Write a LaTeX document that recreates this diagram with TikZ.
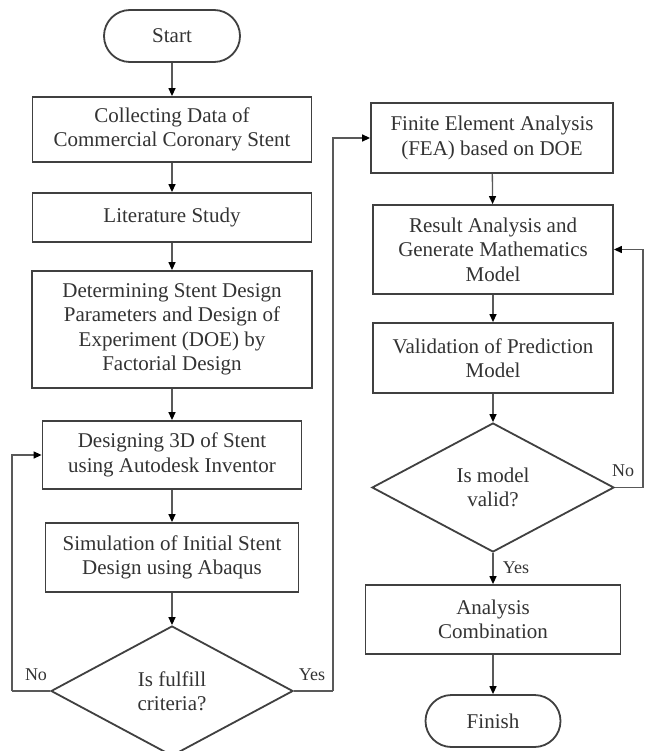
\documentclass[tikz,border=0pt]{standalone}
\usepackage{fontspec}
\setmainfont{Liberation Serif}
\usetikzlibrary{shapes.geometric,arrows.meta}
\begin{document}
\begin{tikzpicture}[x=1pt,y=-1pt,
  every node/.style={text=black!80},
  box/.style={draw=black!75,line width=1.8pt,align=center,inner sep=0pt,
    font=\fontsize{21}{24.5}\selectfont},
  term/.style={box,rounded corners=26pt},
  dec/.style={draw=black!75,line width=1.8pt,diamond,align=center,inner sep=0pt,
    font=\fontsize{21}{24.5}\selectfont},
  conn/.style={draw=black!65,line width=1.3pt,-{Triangle[length=8pt,width=7pt,color=black]}},
  line/.style={draw=black!65,line width=1.3pt},
  lbl/.style={font=\fontsize{18}{20}\selectfont,inner sep=0pt}]
\useasboundingbox[fill=white] (0,0) rectangle (645,751);
% left column
\node[term,minimum width=136pt,minimum height=52pt] (start) at (172,36) {Start};
\node[box,minimum width=279pt,minimum height=65pt] (collect) at (172,129.5) {Collecting Data of\\Commercial Coronary Stent};
\node[box,minimum width=279pt,minimum height=49pt] (lit) at (172,217.5) {Literature Study};
\node[box,minimum width=280pt,minimum height=117pt] (det) at (172,329.5) {Determining Stent Design\\Parameters and Design of\\Experiment (DOE) by\\Factorial Design};
\node[box,minimum width=259pt,minimum height=68pt] (des) at (172,455) {Designing 3D of Stent\\using Autodesk Inventor};
\node[box,minimum width=253pt,minimum height=69pt] (sim) at (172,557.5) {Simulation of Initial Stent\\Design using Abaqus};
\node[dec,minimum width=242pt,minimum height=130pt] (dec1) at (172,691) {Is fulfill\\criteria?};
% right column
\node[box,minimum width=242pt,minimum height=70pt] (fea) at (492,138) {Finite Element Analysis\\(FEA) based on DOE};
\node[box,minimum width=240pt,minimum height=89pt] (res) at (493,249.5) {Result Analysis and\\Generate Mathematics\\Model};
\node[box,minimum width=240pt,minimum height=70pt] (val) at (493,358) {Validation of Prediction\\Model};
\node[dec,minimum width=242pt,minimum height=129pt] (dec2) at (493,487.5) {Is model\\valid?};
\node[box,minimum width=255pt,minimum height=69pt] (ana) at (493,619.5) {Analysis\\Combination};
\node[term,minimum width=135pt,minimum height=52pt] (fin) at (493,721) {Finish};
% connectors
\draw[conn] (start) -- (collect);
\draw[conn] (collect) -- (lit);
\draw[conn] (lit) -- (det);
\draw[conn] (det) -- (des);
\draw[conn] (des) -- (sim);
\draw[conn] (sim) -- (dec1);
\coordinate (nol) at (12,691);
\coordinate (yesr) at (333,691);
\coordinate (nor) at (643,487.5);
\draw[line] (dec1.west) -- (nol);
\draw[conn] (nol) |- (des.west);
\draw[line] (dec1.east) -- (yesr);
\draw[conn] (yesr) |- (fea.west);
\draw[conn] (fea) -- (res);
\draw[conn] (res) -- (val);
\draw[conn] (val) -- (dec2);
\draw[conn] (dec2) -- (ana);
\draw[conn] (ana) -- (fin);
\draw[line] (dec2.east) -- (nor);
\draw[conn] (nor) |- (res.east);
% labels
\node[lbl] (lno1) at (36,675) {No};
\node[lbl] (lyes1) at (312,675) {Yes};
\node[lbl] (lno2) at (623,471) {No};
\node[lbl] (lyes2) at (516,568) {Yes};
\end{tikzpicture}
\end{document}
